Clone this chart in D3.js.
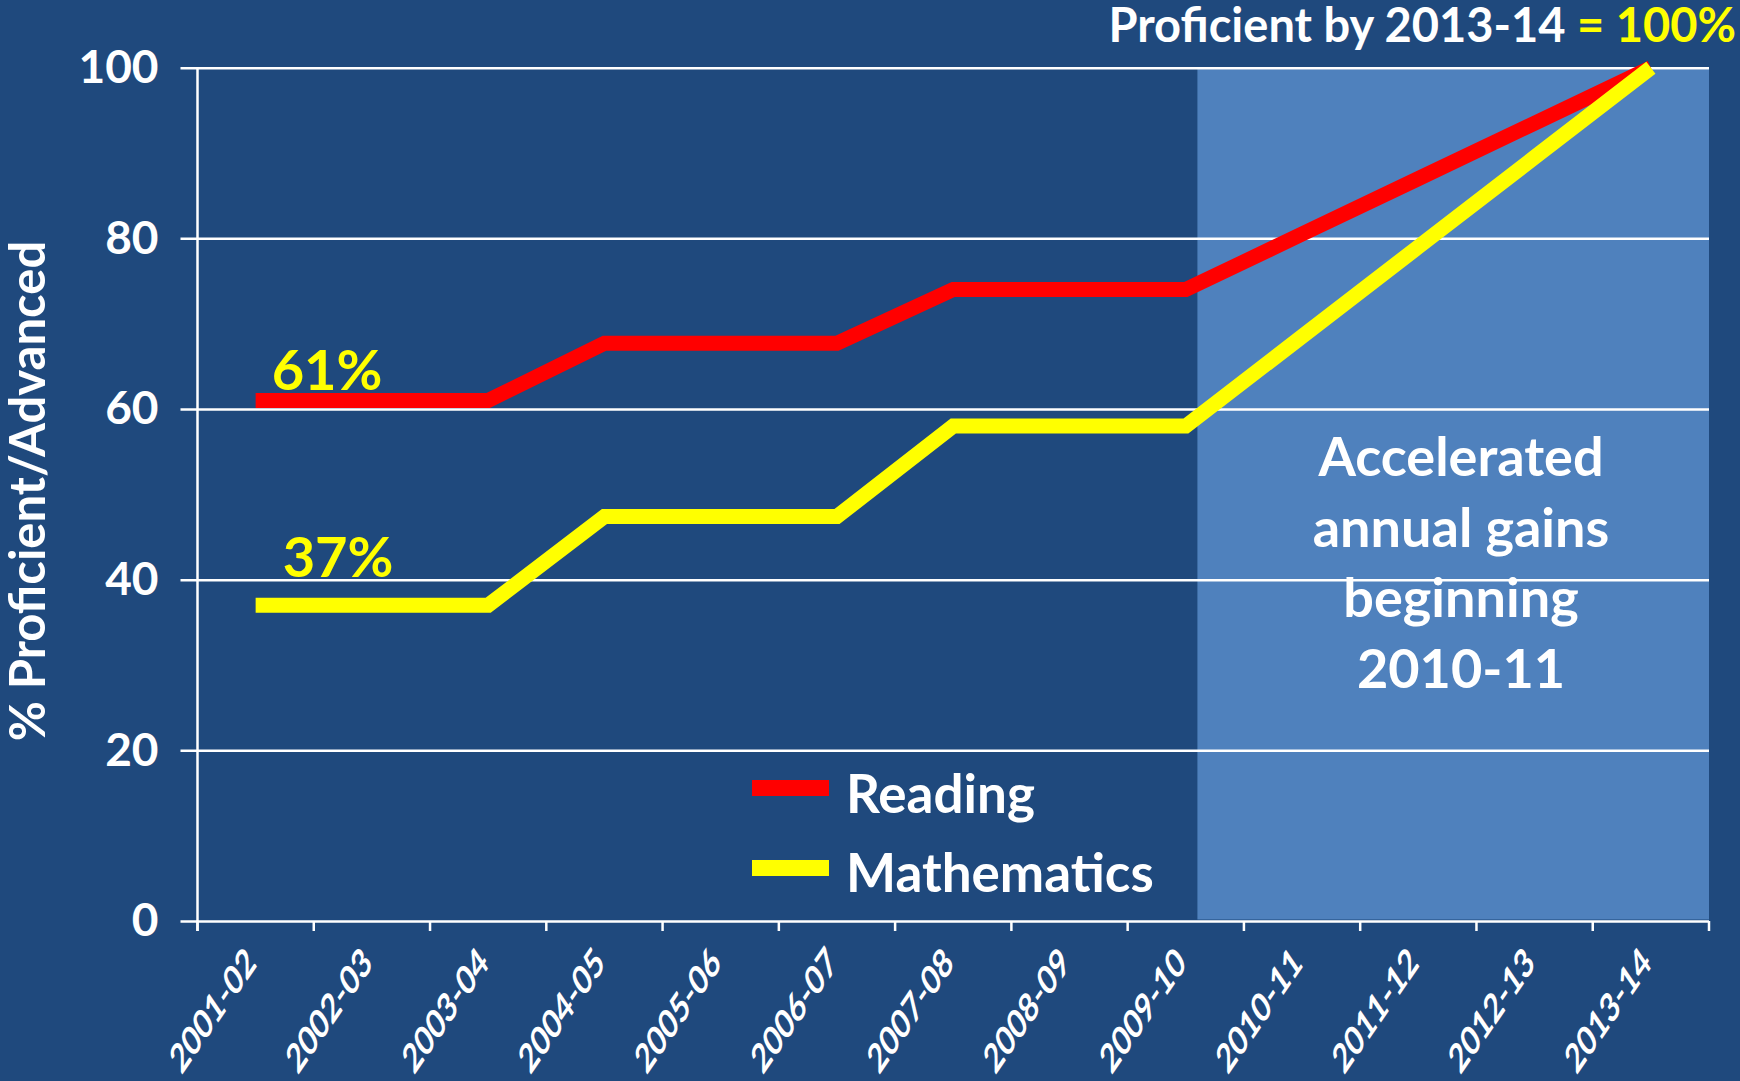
<!DOCTYPE html>
<html>
<head>
<meta charset="utf-8">
<script src="https://cdn.jsdelivr.net/npm/d3@7"></script>
<style>
  html, body { margin: 0; padding: 0; background: #1F497D; }
  svg { display: block; }
  text { font-family: Lato, "Open Sans", sans-serif; font-weight: bold; }
</style>
</head>
<body>
<div id="chart"></div>
<script>
// data
const years = ["2001-02", "2002-03", "2003-04", "2004-05", "2005-06", "2006-07", "2007-08",
               "2008-09", "2009-10", "2010-11", "2011-12", "2012-13", "2013-14"];
const reading = [61, 61, 61, 67.7, 67.7, 67.7, 74, 74, 74, 80.5, 87, 93.5, 100];
const mathematics = [37, 37, 37, 47.4, 47.4, 47.4, 58, 58, 58, 68.5, 79, 89.5, 100];
const yTicks = [0, 20, 40, 60, 80, 100];
const startLabels = ["61%", "37%"];
const noteLines = ["Accelerated", "annual gains", "beginning", "2010-11"];
const shadeFrom = "2009-10";

const W = 1740, H = 1081;
const margin = { top: 67.7, right: 31, bottom: 160, left: 197.5 };
const plotW = W - margin.left - margin.right,
      plotH = H - margin.top - margin.bottom;

const bg = "#1F497D", shade = "#4F81BD";
const red = "#FF0000", yellow = "#FFFF00";

const svg = d3.select("#chart")
    .append("svg")
    .attr("width", W)
    .attr("height", H);

svg.append("rect").attr("width", W).attr("height", H).attr("fill", bg);

const g = svg.append("g")
    .attr("transform", "translate(" + margin.left + "," + margin.top + ")");

const x = d3.scaleBand().domain(years).range([0, plotW]).padding(0);
const y = d3.scaleLinear().domain([0, 100]).range([plotH, 0]);
const cx = d => x(d) + x.bandwidth() / 2;

// shaded "accelerated" zone
g.append("rect")
    .attr("x", x(shadeFrom) + x.bandwidth() * 0.6)
    .attr("y", y(100) + 1.5)
    .attr("width", plotW - x(shadeFrom) - x.bandwidth() * 0.6)
    .attr("height", y(0) - y(100) - 3)
    .attr("fill", shade);

// gridlines + y ticks
const yAxis = g.append("g")
    .call(d3.axisLeft(y).tickValues(yTicks).tickSize(17).tickPadding(22))
    .call(a => a.select(".domain").remove());
yAxis.selectAll(".tick line")
    .attr("x2", plotW)
    .attr("x1", -17)
    .attr("stroke", "#fff")
    .attr("stroke-width", 2.5);
yAxis.selectAll(".tick text")
    .attr("fill", "#fff")
    .attr("font-size", 46)
    .attr("font-family", "Lato")
    .attr("font-weight", "bold");

// y axis line
g.append("line")
    .attr("x1", 0).attr("x2", 0)
    .attr("y1", y(100)).attr("y2", y(0) + 10)
    .attr("stroke", "#fff").attr("stroke-width", 2.5);

// x ticks at band edges
const edges = years.map(d => x(d)).concat([plotW]);
g.append("g").selectAll("line")
    .data(edges)
    .join("line")
    .attr("x1", d => d).attr("x2", d => d)
    .attr("y1", plotH).attr("y2", plotH + 10)
    .attr("stroke", "#fff").attr("stroke-width", 2.5);

// x labels, rotated (slide was stretched, so glyphs look sheared)
g.append("g").selectAll("text")
    .data(years)
    .join("text")
    .attr("transform", d => "translate(" + (cx(d) + 2) + "," + (plotH + 44) + ") scale(1,1.45) rotate(-45)")
    .attr("text-anchor", "end")
    .attr("fill", "#fff")
    .attr("font-size", 28)
    .text(d => d);

// lines
const line = d3.line()
    .x((d, i) => cx(years[i]))
    .y(d => y(d));

[[reading, red], [mathematics, yellow]].forEach(([vals, col]) => {
    g.append("path")
        .datum(vals)
        .attr("d", line)
        .attr("fill", "none")
        .attr("stroke", col)
        .attr("stroke-width", 15)
        .attr("stroke-linecap", "butt")
        .attr("stroke-linejoin", "miter");
});

// starting value labels
g.append("text")
    .attr("x", cx(years[0]) + 16)
    .attr("y", y(reading[0]) - 10)
    .attr("fill", yellow)
    .attr("font-size", 56)
    .text(startLabels[0]);
g.append("text")
    .attr("x", cx(years[0]) + 27)
    .attr("y", y(mathematics[0]) - 28)
    .attr("fill", yellow)
    .attr("font-size", 56)
    .text(startLabels[1]);

// note in shaded zone
g.append("text")
    .attr("x", 1461 - margin.left)
    .attr("y", 476 - margin.top)
    .attr("text-anchor", "middle")
    .attr("fill", "#fff")
    .attr("font-size", 54)
    .selectAll("tspan")
    .data(noteLines)
    .join("tspan")
    .attr("x", 1461 - margin.left)
    .attr("dy", (d, i) => i === 0 ? 0 : 70.7)
    .text(d => d);

// legend
const legend = svg.append("g").attr("transform", "translate(752,780)");
[["Reading", red], ["Mathematics", yellow]].forEach(([name, col], i) => {
    legend.append("rect")
        .attr("x", 0).attr("y", i * 80)
        .attr("width", 77).attr("height", 16)
        .attr("fill", col);
    legend.append("text")
        .attr("x", 94).attr("y", i * 79 + 33)
        .attr("fill", "#fff")
        .attr("font-size", 53)
        .text(name);
});

// y axis title
svg.append("text")
    .attr("transform", "translate(45,491) rotate(-90)")
    .attr("text-anchor", "middle")
    .attr("fill", "#fff")
    .attr("font-size", 49)
    .text("% Proficient/Advanced");

// top title
const title = svg.append("text")
    .attr("x", 1736)
    .attr("y", 42)
    .attr("text-anchor", "end")
    .attr("font-size", 47)
    .attr("fill", "#fff");
title.append("tspan").text("Proficient by 2013-14 ");
title.append("tspan").attr("fill", yellow).text("= 100%");
</script>
</body>
</html>
